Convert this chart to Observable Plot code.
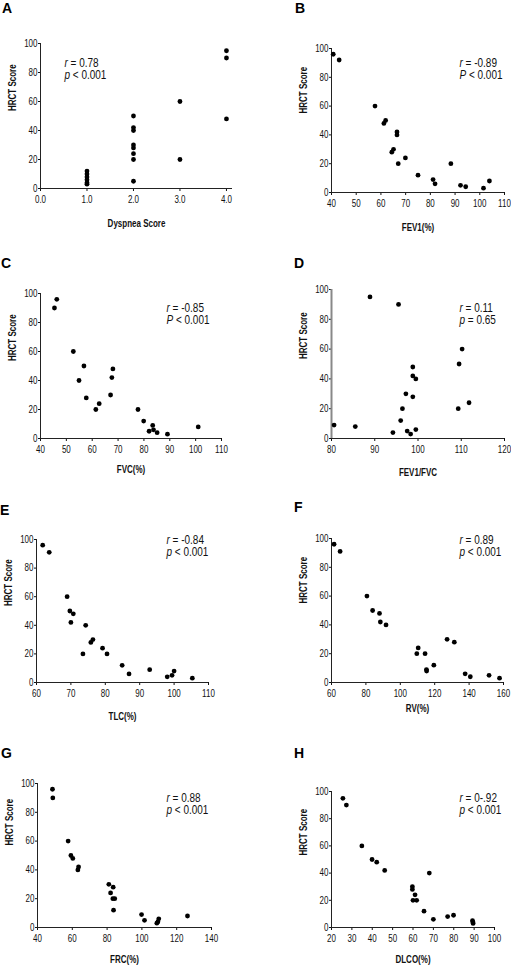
<!DOCTYPE html>
<html>
<head>
<meta charset="utf-8">
<script src="https://cdn.jsdelivr.net/npm/d3@7"></script>
<script src="https://cdn.jsdelivr.net/npm/@observablehq/plot@0.6"></script>
<style>
  html, body { margin: 0; padding: 0; background: #fff; }
  #fig { position: relative; width: 511px; height: 965px; overflow: hidden; background: #fff; }
  .panel { position: absolute; }
  .panel svg { display: block; }
  .letter { position: absolute; font: bold 14px "Liberation Sans", Arial, sans-serif; line-height: 1; color: #000; }
</style>
</head>
<body>
<div id="fig"></div>
<script>
// ---------- data ----------
const yTicks = [0, 20, 40, 60, 80, 100];

const dyspneaScore = [1, 1, 1, 1, 1, 1, 2, 2, 2, 2, 2, 2, 2, 2, 3, 3, 4, 4, 4];
const hrctA = [12, 10, 8, 6, 4, 3, 50, 42, 40, 30, 28, 24, 20, 5, 60, 20, 95, 90, 48];

const fev1 = [40.7, 43.1, 57.6, 61.2, 61.9, 66.5, 66.5, 64.4, 65.1, 67, 69.9, 75, 81.1, 81.9, 88.3, 92.2, 94.3, 101.5, 103.9];
const hrctB = [96, 92, 60, 48, 50, 42, 40, 28, 30, 20, 24, 12, 9, 6, 20, 5, 4, 3, 8];

const fvc = [45.4, 46.3, 52.7, 56.8, 54.9, 57.7, 61.4, 62.7, 67.1, 67.6, 68, 77.7, 79.9, 82, 83.4, 83.7, 85.1, 89.1, 101];
const hrctC = [90, 96, 60, 50, 40, 28, 20, 24, 30, 42, 48, 20, 12, 5, 9, 6, 4, 3, 8];

const fev1Fvc = [88.9, 95.5, 110.2, 109.5, 98.8, 98.8, 99.5, 97.2, 98.8, 111.8, 109.3, 96.4, 96, 80.6, 85.5, 94.2, 97.5, 98.3, 99.5];
const hrctD = [95, 90, 60, 50, 48, 42, 40, 30, 28, 24, 20, 20, 12, 9, 8, 4, 5, 3, 6];

const tlc = [61.8, 63.7, 68.9, 69.7, 70.7, 70, 74.3, 73.5, 75.8, 76.4, 79.2, 80.5, 84.9, 86.9, 92.9, 98, 99.4, 100, 105.3];
const hrctE = [96, 91, 60, 50, 48, 42, 40, 20, 28, 30, 24, 20, 12, 6, 9, 4, 5, 8, 3];

const rv = [61.5, 65, 80.6, 83.9, 87.9, 88.4, 91.7, 110.4, 109.6, 114.4, 127.2, 131.4, 119.5, 115.2, 115.3, 137.7, 140.7, 151.6, 157.7];
const hrctF = [96, 91, 60, 50, 48, 42, 40, 24, 20, 20, 30, 28, 12, 9, 8, 6, 4, 5, 3];

const frc = [48.6, 48.8, 57.6, 59.2, 60.3, 63.2, 63.6, 81, 83.5, 82, 83.3, 84.4, 83.7, 99.8, 101.5, 108.6, 109.2, 109.7, 126.2];
const hrctG = [96, 90, 60, 50, 48, 40, 42, 30, 28, 24, 20, 20, 12, 9, 5, 3, 4, 6, 8];

const dlco = [25.6, 27.3, 34.9, 39.9, 42.2, 46.1, 59.7, 59.7, 61, 60, 61.8, 68, 65.4, 70, 77, 79.9, 89.2, 89.4, 89.5];
const hrctH = [95, 90, 60, 50, 48, 42, 30, 28, 24, 20, 20, 40, 12, 6, 8, 9, 5, 4, 3];

const letters = ["A", "B", "C", "D", "E", "F", "G", "H"];
const xLabels = ["Dyspnea Score", "FEV1(%)", "FVC(%)", "FEV1/FVC", "TLC(%)", "RV(%)", "FRC(%)", "DLCO(%)"];
const yLabel = "HRCT Score";
const statR = ["r = 0.78", "r = -0.89", "r = -0.85", "r = 0.11", "r = -0.84", "r = 0.89", "r = 0.88", "r = 0-.92"];
const statP = ["p < 0.001", "P < 0.001", "P < 0.001", "p = 0.65", "p < 0.001", "p < 0.001", "p < 0.001", "p < 0.001"];
const xTickSets = [[0, 1, 2, 3, 4], [40, 50, 60, 70, 80, 90, 100, 110], [40, 50, 60, 70, 80, 90, 100, 110],
  [80, 90, 100, 110, 120], [60, 70, 80, 90, 100, 110], [60, 80, 100, 120, 140, 160],
  [40, 60, 80, 100, 120, 140], [20, 30, 40, 50, 60, 70, 80, 90, 100]];
const xDomains = [[0, 4.13], [40, 110], [40, 110], [80, 120], [60, 110], [60, 160], [40, 140], [20, 100]];
const xSeries = [dyspneaScore, fev1, fvc, fev1Fvc, tlc, rv, frc, dlco];
const ySeries = [hrctA, hrctB, hrctC, hrctD, hrctE, hrctF, hrctG, hrctH];

// ---------- layout ----------
const layout = [
  {left: 0,   top: 0,   w: 255, h: 240, m: [43, 23, 52, 40], fmt: ".1f", sdx: 24,  sdy: 26, xdy: 35, ydy: -5,  L: [2, 1]},
  {left: 255, top: 0,   w: 256, h: 240, m: [48, 7, 48, 76],  fmt: "d",   sdx: 128, sdy: 21, xdy: 35, ydy: -7,  L: [295, 1]},
  {left: 0,   top: 240, w: 255, h: 240, m: [53, 34, 42, 40], fmt: "d",   sdx: 126, sdy: 21, xdy: 31, ydy: -5,  L: [1, 256]},
  {left: 255, top: 240, w: 256, h: 240, m: [49, 7, 42, 76],  fmt: "d",   sdx: 128, sdy: 25, xdy: 34, ydy: -5,  L: [294, 256], axisColor: "#888", axisWidth: 2},
  {left: 0,   top: 480, w: 255, h: 240, m: [59, 47, 38, 36], fmt: "d",   sdx: 130, sdy: 7,  xdy: 34, ydy: -5,  L: [0, 503]},
  {left: 255, top: 480, w: 256, h: 240, m: [58, 8, 38, 76],  fmt: "d",   sdx: 128, sdy: 8,  xdy: 26, ydy: -7,  L: [294, 500]},
  {left: 0,   top: 720, w: 255, h: 245, m: [63, 44, 38, 37], fmt: "d",   sdx: 129, sdy: 21, xdy: 32, ydy: -10, L: [1, 746]},
  {left: 255, top: 720, w: 256, h: 245, m: [71, 17, 38, 76], fmt: "d",   sdx: 128, sdy: 13, xdy: 32, ydy: -4,  L: [294, 746]}
];

const FONT = "'Liberation Sans',Arial,sans-serif";
const NARROW = 0.8; // horizontal condensing of the text (Arial Narrow look)
const fig = document.getElementById("fig");
const NS = "http://www.w3.org/2000/svg";

layout.forEach((g, i) => {
  const [mt, mr, mb, ml] = g.m;
  const data = xSeries[i].map((x, k) => ({x, y: ySeries[i][k]}));
  const svg = Plot.plot({
    width: g.w, height: g.h,
    marginTop: mt, marginRight: mr, marginBottom: mb, marginLeft: ml,
    style: {fontFamily: FONT, fontSize: "10px", color: "#111", background: "transparent", overflow: "visible"},
    x: {domain: xDomains[i], ticks: xTickSets[i], tickFormat: d3.format(g.fmt), tickSize: 3, tickPadding: 4, label: null},
    y: {domain: [0, 100], ticks: yTicks, tickSize: 2, tickPadding: 1, label: null},
    marks: [
      Plot.ruleX([xDomains[i][0]], {stroke: g.axisColor || "#222", strokeWidth: g.axisWidth || 1}),
      Plot.ruleY([0], {stroke: "#222", strokeWidth: 1}),
      Plot.dot(data, {x: "x", y: "y", r: 2.4, fill: "#000"}),
      Plot.text([statR[i] + "\n" + statP[i]], {text: d => d, frameAnchor: "top-left", textAnchor: "start", lineAnchor: "middle",
        dx: g.sdx, dy: g.sdy, fontSize: 12.5, lineHeight: 0.96, fill: "#111"}),
      Plot.text([xLabels[i]], {text: d => d, frameAnchor: "bottom", lineAnchor: "middle", dy: g.xdy,
        fontWeight: "bold", fontSize: 10, fill: "#111"}),
      Plot.text([yLabel], {text: d => d, frameAnchor: "left", rotate: -90, lineAnchor: "middle", dx: -28, dy: g.ydy,
        fontWeight: "bold", fontSize: 10, fill: "#111"})
    ]
  });
  // italic statistic symbols (r, p, P)
  svg.querySelectorAll("text, tspan").forEach(el => {
    if (el.children.length) return;
    const t = el.textContent;
    if (/^[rpP] [=<]/.test(t)) {
      el.textContent = "";
      const it = document.createElementNS(NS, "tspan");
      it.setAttribute("font-style", "italic");
      it.textContent = t[0];
      el.appendChild(it);
      el.appendChild(document.createTextNode(t.slice(1)));
    }
  });
  // condense all texts horizontally around their anchor
  svg.querySelectorAll("text").forEach(el => {
    const tr = el.getAttribute("transform");
    if (tr) el.setAttribute("transform", tr + ` scale(${NARROW},1)`);
  });
  const div = document.createElement("div");
  div.className = "panel";
  div.style.left = g.left + "px";
  div.style.top = g.top + "px";
  div.appendChild(svg);
  fig.appendChild(div);

  const lt = document.createElement("div");
  lt.className = "letter";
  lt.textContent = letters[i];
  lt.style.left = g.L[0] + "px";
  lt.style.top = g.L[1] + "px";
  fig.appendChild(lt);
});
</script>
</body>
</html>
